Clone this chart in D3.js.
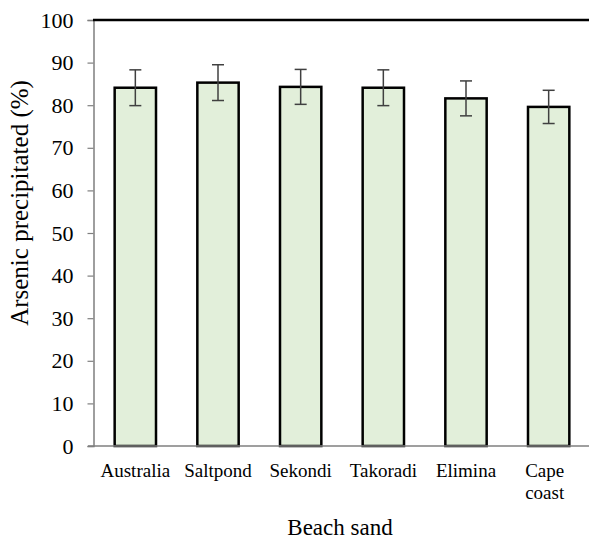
<!DOCTYPE html>
<html><head><meta charset="utf-8">
<script src="https://cdn.jsdelivr.net/npm/d3@7"></script>
</head><body style="margin:0">
<svg id="chart" width="589" height="540" font-family="Liberation Serif"></svg>
<script>
const categories = ["Australia","Saltpond","Sekondi","Takoradi","Elimina","Cape coast"];
const values = [84.1, 85.3, 84.3, 84.1, 81.6, 79.6];
const errors = [4.2, 4.2, 4.1, 4.2, 4.1, 3.9];
const yTicks = [0,10,20,30,40,50,60,70,80,90,100];

const svg = d3.select("#chart");
const FF = "Liberation Serif";
const x = d3.scaleBand().domain(categories).range([94, 590]).paddingInner(0.5).paddingOuter(0.25);
const y = d3.scaleLinear().domain([0,100]).range([446, 20]);

// bars
svg.selectAll("rect.bar").data(categories).join("rect")
  .attr("x", d => x(d)).attr("width", x.bandwidth())
  .attr("y", (d,i) => y(values[i])).attr("height", (d,i) => y(0) - y(values[i]))
  .attr("fill", "#e2efda").attr("stroke", "#000").attr("stroke-width", 2.5);

// error bars
const eg = svg.append("g").attr("stroke", "#404040").attr("stroke-width", 1.5);
categories.forEach((c,i) => {
  const cx = x(c) + x.bandwidth()/2;
  eg.append("line").attr("x1", cx).attr("x2", cx).attr("y1", y(values[i]+errors[i])).attr("y2", y(values[i]-errors[i]));
  eg.append("line").attr("x1", cx-6).attr("x2", cx+6).attr("y1", y(values[i]+errors[i])).attr("y2", y(values[i]+errors[i]));
  eg.append("line").attr("x1", cx-6).attr("x2", cx+6).attr("y1", y(values[i]-errors[i])).attr("y2", y(values[i]-errors[i]));
});

// y axis
const yAxis = svg.append("g").attr("transform", "translate(93.5,0)")
  .call(d3.axisLeft(y).tickValues(yTicks).tickSize(6).tickPadding(14))
  .attr("font-family", FF).attr("font-size", 22);
yAxis.select(".domain").attr("stroke", "#7f7f7f").attr("stroke-width", 1.5);
yAxis.selectAll(".tick line").attr("stroke", "#7f7f7f").attr("stroke-width", 1.2);
yAxis.selectAll(".tick text").attr("fill", "#000");

// x axis line
svg.append("line").attr("x1", 88).attr("x2", 589).attr("y1", 446).attr("y2", 446)
  .attr("stroke", "#7f7f7f").attr("stroke-width", 1.5);
// top border
svg.append("line").attr("x1", 93).attr("x2", 589).attr("y1", 20).attr("y2", 20)
  .attr("stroke", "#000").attr("stroke-width", 2.5);

// category labels
categories.forEach(c => {
  const cx = x(c) + x.bandwidth()/2;
  const parts = c === "Cape coast" ? ["Cape","coast"] : [c];
  parts.forEach((p,k) => svg.append("text")
    .attr("x", cx - (parts.length>1?4:0)).attr("y", 477 + k*22).attr("text-anchor", "middle")
    .attr("font-family", FF).attr("font-size", 19).attr("fill", "#000").text(p));
});

// axis titles
svg.append("text").attr("x", 340).attr("y", 535).attr("text-anchor", "middle")
  .attr("font-family", FF).attr("font-size", 23).text("Beach sand");
svg.append("text").attr("transform", "translate(28,203) rotate(-90)").attr("text-anchor", "middle")
  .attr("font-family", FF).attr("font-size", 25).text("Arsenic precipitated (%)");
</script>
</body></html>
